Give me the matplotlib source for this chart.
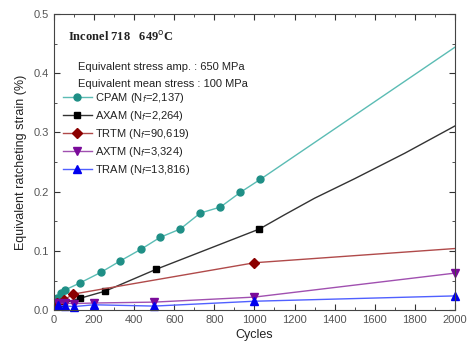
import numpy as np
import matplotlib
matplotlib.use("Agg")
import matplotlib.pyplot as plt
from matplotlib.ticker import MultipleLocator

# data (cycles, strain %)
cpam_x = [15, 35, 55, 130, 235, 330, 435, 530, 630, 730, 830, 930, 1030, 2000]
cpam_y = [0.020, 0.029, 0.034, 0.046, 0.064, 0.083, 0.103, 0.123, 0.137, 0.164, 0.174, 0.199, 0.221, 0.444]

axam_x = [10, 50, 130, 255, 510, 1025, 1150, 1300, 1500, 1750, 2000]
axam_y = [0.010, 0.012, 0.020, 0.032, 0.069, 0.137, 0.161, 0.189, 0.222, 0.265, 0.311]

trtm_x = [15, 50, 95, 1000, 2000]
trtm_y = [0.012, 0.017, 0.027, 0.080, 0.104]

axtm_x = [20, 55, 100, 200, 500, 1000, 2000]
axtm_y = [0.012, 0.012, 0.011, 0.012, 0.0135, 0.022, 0.0625]

tram_x = [20, 55, 100, 200, 500, 1000, 2000]
tram_y = [0.008, 0.007, 0.006, 0.009, 0.0068, 0.015, 0.024]

plt.rcParams['font.family'] = ['Liberation Sans', 'DejaVu Sans']

fig = plt.figure(figsize=(4.68, 3.52), dpi=100)
ax = fig.add_axes([0.1154, 0.119, 0.8566, 0.841])

ax.plot(cpam_x, cpam_y, '-', color='#5bbcb4', lw=1.0, marker='o', ms=5,
        mfc='#1f8f86', mec='#1f8f86', markevery=list(range(13)),
        label='CPAM (N$_f$=2,137)')
ax.plot(axam_x, axam_y, '-', color='#333333', lw=1.0, marker='s', ms=4.5,
        mfc='black', mec='black', markevery=[0, 1, 2, 3, 4, 5],
        label='AXAM (N$_f$=2,264)')
ax.plot(trtm_x, trtm_y, '-', color='#b04a4a', lw=1.0, marker='D', ms=5,
        mfc='#8b0000', mec='#8b0000', markevery=[0, 1, 2, 3],
        label='TRTM (N$_f$=90,619)')
ax.plot(axtm_x, axtm_y, '-', color='#a050b0', lw=1.0, marker='v', ms=5.5,
        mfc='#7a0a9a', mec='#7a0a9a', label='AXTM (N$_f$=3,324)', clip_on=False)
ax.plot(tram_x, tram_y, '-', color='#5060ff', lw=1.0, marker='^', ms=5.5,
        mfc='#0000ee', mec='#0000ee', label='TRAM (N$_f$=13,816)', clip_on=False)

ax.set_xlim(0, 2000)
ax.set_ylim(0, 0.5)
ax.xaxis.set_major_locator(MultipleLocator(200))
ax.xaxis.set_minor_locator(MultipleLocator(100))
ax.yaxis.set_major_locator(MultipleLocator(0.1))
ax.yaxis.set_minor_locator(MultipleLocator(0.05))
ax.yaxis.set_major_formatter(plt.FormatStrFormatter('%.1f'))
ax.tick_params(which='both', direction='in', top=True, right=True,
               labelsize=8, colors='#333333', labelcolor='#555555')
ax.tick_params(which='major', length=4)
ax.tick_params(which='minor', length=2)
for s in ax.spines.values():
    s.set_color('#444444')

ax.set_xlabel('Cycles', fontsize=9, color='#222222', labelpad=3)
ax.set_ylabel('Equivalent ratcheting strain (%)', fontsize=9, color='#222222', labelpad=5)

ax.text(0.035, 0.91, 'Inconel 718   649$^{\\rm o}$C', transform=ax.transAxes,
        fontsize=9, fontweight='bold', family='Liberation Serif', color='#222222')
ax.text(0.06, 0.81, 'Equivalent stress amp. : 650 MPa', transform=ax.transAxes,
        fontsize=8, color='#222222')
ax.text(0.06, 0.755, 'Equivalent mean stress : 100 MPa', transform=ax.transAxes,
        fontsize=8, color='#222222')

leg = ax.legend(loc='upper left', bbox_to_anchor=(0.0, 0.77), frameon=False,
                fontsize=8, handlelength=2.6, handletextpad=0.3,
                labelspacing=0.35, borderaxespad=0.4)
for t in leg.get_texts():
    t.set_color('#222222')

fig.savefig('out.png', dpi=100)
